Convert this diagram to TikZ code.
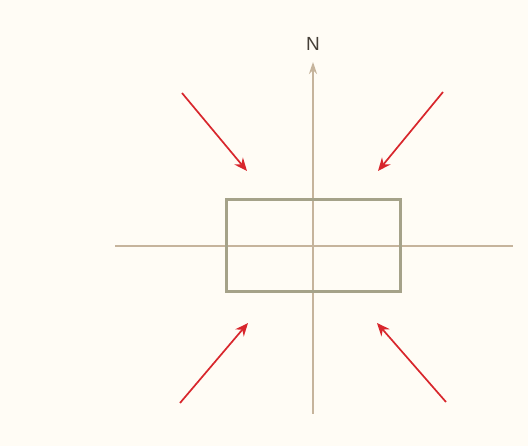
\documentclass[tikz,border=0pt]{standalone}
\usepackage{fontspec}
\setsansfont{Liberation Sans}
\usetikzlibrary{arrows.meta}
\definecolor{paper}{HTML}{FFFCF5}
\definecolor{axisbrown}{HTML}{C6B49C}
\definecolor{boxolive}{HTML}{A5A289}
\definecolor{pushred}{HTML}{D8262C}

\begin{document}
\begin{tikzpicture}[x=1pt,y=-1pt,>=Stealth]
  \tikzset{
    axisline/.style={axisbrown,line width=1.8pt},
    pusharrow/.style={pushred,line width=1.7pt,
      -{Stealth[length=13pt,width=11pt]}}
  }
  % Page and its margins.
  \fill[paper] (0,0) rectangle (528,446);
  \useasboundingbox (0,0) rectangle (528,446);

  % The two axes, north pointing up.
  \coordinate (west) at (115,246);
  \coordinate (east) at (513,246);
  \coordinate (south) at (313,414);
  \coordinate (north) at (313,62);
  \draw[axisline] (west)--(east);
  \draw[axisline,-{Stealth[length=12pt,width=8pt]}] (south)--(north);
  \node[font=\sffamily\fontsize{19}{19}\selectfont,axisbrown!35!black]
    (nlabel) at (313,44) {N};

  % The block.
  \draw[boxolive,line width=3pt] (226,200) rectangle (400,292);

  % Compression from the four corners.
  \coordinate (nwtail) at (182,93);
  \coordinate (nwtip) at (247,171);
  \coordinate (netail) at (443,92);
  \coordinate (netip) at (378,171);
  \coordinate (swtail) at (180,403);
  \coordinate (swtip) at (248,323);
  \coordinate (setail) at (446,402);
  \coordinate (setip) at (377,323);
  \foreach \a in {nw,ne,sw,se}
    \draw[pusharrow] (\a tail)--(\a tip);
\end{tikzpicture}
\end{document}
